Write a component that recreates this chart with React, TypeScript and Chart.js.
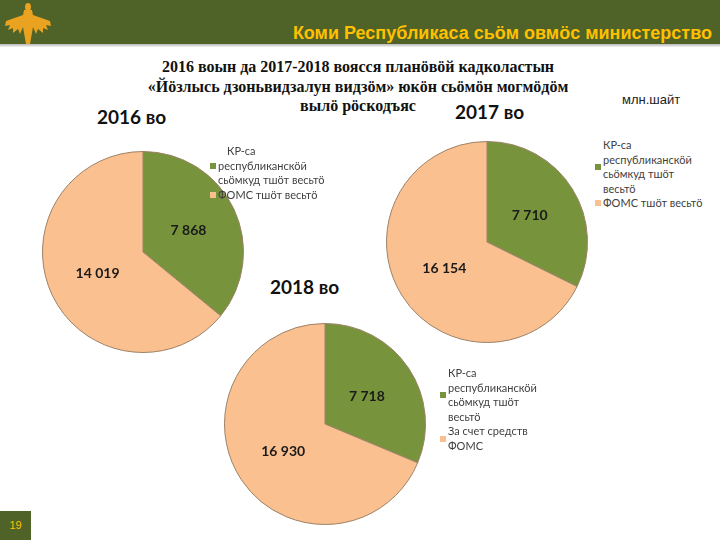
import React, { useEffect, useRef } from "react";
import { Chart, registerables } from "chart.js";

Chart.register(...registerables);

// ---- data ----
const seriesNames = ["КР-са республиканскӧй сьӧмкуд тшӧт весьтӧ", "ФОМС тшӧт весьтӧ"];
const years = ["2016 во", "2017 во", "2018 во"];
const values2016 = [7868, 14019];
const values2017 = [7710, 16154];
const values2018 = [7718, 16930];
const sliceColors = ["#77933C", "#FAC090"];

const legend2016 = [["КР-са", "республиканскӧй", "сьӧмкуд тшӧт весьтӧ"], ["ФОМС тшӧт весьтӧ"]];
const legend2017 = [["КР-са", "республиканскӧй", "сьӧмкуд тшӧт", "весьтӧ"], ["ФОМС тшӧт весьтӧ"]];
const legend2018 = [["КР-са", "республиканскӧй", "сьӧмкуд тшӧт", "весьтӧ"], ["За счет средств", "ФОМС"]];

const titleLines = [
  "2016 воын да 2017-2018 воясся планӧвӧй кадколастын",
  "«Йӧзлысь дзоньвидзалун видзӧм» юкӧн сьӧмӧн могмӧдӧм",
  "вылӧ рӧскодъяс",
];
const headerText = "Коми Республикаса сьӧм овмӧс министерство";
const unitText = "млн.шайт";
const pageNumber = "19";

const fmt = (v: number) => String(v).replace(/\B(?=(\d{3})+(?!\d))/g, " ");

const sliceLabelPlugin = {
  id: "sliceLabels",
  afterDatasetsDraw(chart: any) {
    const ctx = chart.ctx;
    const meta = chart.getDatasetMeta(0);
    const data = chart.data.datasets[0].data;
    ctx.save();
    ctx.font = "bold 14px Lato, 'Open Sans', sans-serif";
    ctx.fillStyle = "#1a1a1a";
    ctx.textAlign = "center";
    ctx.textBaseline = "middle";
    meta.data.forEach((arc: any, i: number) => {
      const p = arc.tooltipPosition(false);
      ctx.fillText(fmt(data[i]), p.x, p.y);
    });
    ctx.restore();
  },
};

function Pie({ values, left, top, size }: { values: number[]; left: number; top: number; size: number }) {
  const ref = useRef<HTMLCanvasElement | null>(null);
  useEffect(() => {
    if (!ref.current) return;
    const chart = new Chart(ref.current, {
      type: "pie",
      data: {
        labels: seriesNames,
        datasets: [
          {
            data: values,
            backgroundColor: sliceColors,
            borderColor: "#9c8266",
            borderWidth: 1,
          },
        ],
      },
      options: {
        responsive: false,
        animation: false,
        layout: { padding: 1 },
        plugins: { legend: { display: false }, tooltip: { enabled: false } },
      },
      plugins: [sliceLabelPlugin],
    });
    return () => chart.destroy();
  }, [values]);
  return (
    <canvas
      ref={ref}
      width={size}
      height={size}
      style={{ position: "absolute", left, top, width: size, height: size }}
    />
  );
}

function Legend({ items, left, top, lineH, indentFirst }: { items: string[][]; left: number; top: number; lineH: number; indentFirst?: number }) {
  let row = 0;
  const out: any[] = [];
  items.forEach((lines, i) => {
    const startRow = row;
    const squareRow = lines.length > 1 ? startRow + (lines.length - 1) / 2 : startRow;
    out.push(
      <div
        key={"sq" + i}
        style={{
          position: "absolute",
          left,
          top: top + squareRow * lineH + lineH / 2 - 3,
          width: 6,
          height: 6,
          background: sliceColors[i],
        }}
      />
    );
    lines.forEach((t, j) => {
      out.push(
        <div
          key={"t" + i + "_" + j}
          style={{
            position: "absolute",
            left: left + 8 + (i === 0 && j === 0 && indentFirst ? indentFirst : 0),
            top: top + row * lineH,
            height: lineH,
            lineHeight: lineH + "px",
            whiteSpace: "nowrap",
            fontSize: 11,
            color: "#3f3f3f",
            fontFamily: "Lato, 'Open Sans', sans-serif",
          }}
        >
          {t}
        </div>
      );
      row++;
    });
  });
  return <>{out}</>;
}

function Logo() {
  return (
    <svg width="52" height="44" style={{ position: "absolute", left: 2, top: 1 }} viewBox="0 0 52 44">
      <g fill="#E9A321">
        <ellipse cx="26" cy="6" rx="3" ry="4" />
        <path d="M22 9 L30 9 L32 20 L30 32 L28 43 L24 43 L22 32 L20 20 Z" />
        <path d="M21 14 L4 20 L3 25 L8 24 L6 29 L11 27 L11 32 L16 28 L18 33 L21 26 Z" />
        <path d="M31 14 L48 20 L49 25 L44 24 L46 29 L41 27 L41 32 L36 28 L34 33 L31 26 Z" />
      </g>
    </svg>
  );
}

export default function App() {
  useEffect(() => {
    document.body.style.margin = "0";
  }, []);
  const yearStyle: any = {
    position: "absolute",
    fontFamily: "Lato, 'Open Sans', sans-serif",
    fontWeight: 700,
    fontSize: 19,
    color: "#111",
    whiteSpace: "nowrap",
    lineHeight: "22px",
  };
  return (
    <div style={{ position: "absolute", left: 0, top: 0, width: 720, height: 540, background: "#fff", overflow: "hidden" }}>
      {/* header */}
      <div style={{ position: "absolute", left: 0, top: 0, width: 720, height: 44, background: "#4F6228" }} />
      <div style={{ position: "absolute", left: 0, top: 44, width: 720, height: 3, background: "linear-gradient(#b9b9b9, #f2f2f2)" }} />
      <Logo />
      <div
        style={{
          position: "absolute",
          right: 8,
          top: 21,
          lineHeight: "24px",
          fontFamily: "'Liberation Sans Narrow', 'Liberation Sans', Arial, sans-serif",
          fontWeight: 700,
          fontSize: 18,
          color: "#FFC000",
          whiteSpace: "nowrap",
        }}
      >
        {headerText}
      </div>

      {/* title */}
      {titleLines.map((t, i) => (
        <div
          key={i}
          style={{
            position: "absolute",
            left: 0,
            width: 716,
            top: 57 + i * 19.5,
            textAlign: "center",
            fontFamily: "'Liberation Serif', 'Times New Roman', serif",
            fontWeight: 700,
            fontSize: 16,
            lineHeight: "20px",
            color: "#111",
            whiteSpace: "nowrap",
          }}
        >
          {t}
        </div>
      ))}

      <div
        style={{
          position: "absolute",
          left: 622,
          top: 92,
          fontFamily: "'Liberation Sans', Arial, sans-serif",
          fontSize: 13,
          lineHeight: "16px",
          color: "#222",
        }}
      >
        {unitText}
      </div>

      <div style={{ ...yearStyle, left: 97, top: 106 }}>{years[0]}</div>
      <div style={{ ...yearStyle, left: 455, top: 101 }}>{years[1]}</div>
      <div style={{ ...yearStyle, left: 270, top: 276 }}>{years[2]}</div>

      <Pie values={values2016} left={41} top={150} size={204} />
      <Pie values={values2017} left={385} top={140} size={204} />
      <Pie values={values2018} left={223} top={322} size={204} />

      <Legend items={legend2016} left={210} top={144} lineH={14.5} indentFirst={9} />
      <Legend items={legend2017} left={595} top={138} lineH={14.5} />
      <Legend items={legend2018} left={440} top={366} lineH={14.5} />

      {/* page number */}
      <div
        style={{
          position: "absolute",
          left: 0,
          top: 511,
          width: 31,
          height: 29,
          background: "#4F6228",
          color: "#FFC000",
          fontFamily: "'Liberation Sans', Arial, sans-serif",
          fontSize: 11,
          lineHeight: "29px",
          textAlign: "center",
        }}
      >
        {pageNumber}
      </div>
    </div>
  );
}
